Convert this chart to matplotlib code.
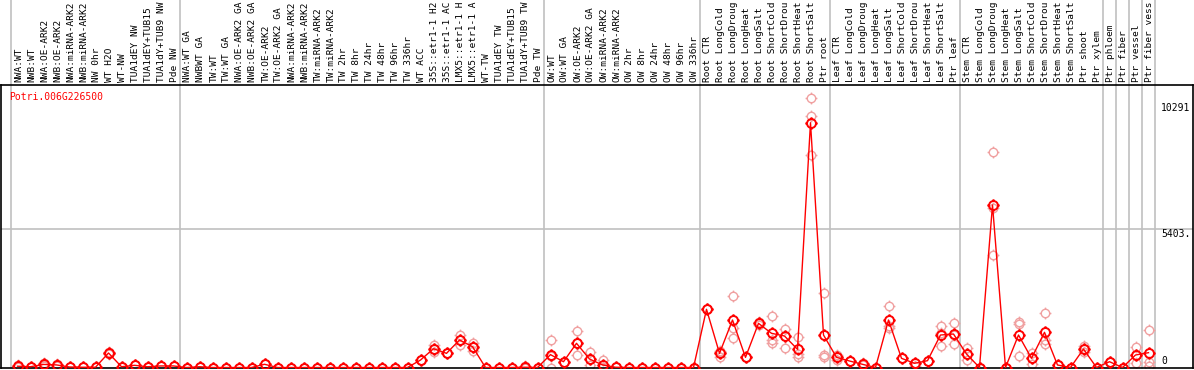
import matplotlib
matplotlib.use("Agg")
import matplotlib.pyplot as plt
import numpy as np
from matplotlib.path import Path

# etiquetas de las columnas (se recortan a 14 caracteres como en el original)
labels = [
    "NWA:WT", "NWB:WT", "NWA:OE-ARK2", "NWB:OE-ARK2", "NWA:miRNA-ARK2", "NWB:miRNA-ARK2",
    "NW 0hr", "WT H2O", "WT-NW", "TUA1dEY NW", "TUA1dEY+TUB15 NW", "TUA1dY+TUB9 NW", "Pde NW",
    "NWA:WT GA", "NWBWT GA", "TW:WT", "TW:WT GA", "NWA:OE-ARK2 GA", "NWB:OE-ARK2 GA",
    "TW:OE-ARK2", "TW:OE-ARK2 GA", "NWA:miRNA-ARK2", "NWB:miRNA-ARK2", "TW:miRNA-ARK2",
    "TW:miRNA-ARK2", "TW 2hr", "TW 8hr", "TW 24hr", "TW 48hr", "TW 96hr", "TW 336hr", "WT ACC",
    "35S::etr1-1 H2O", "35S::etr1-1 ACC", "LMX5::etr1-1 H2O", "LMX5::etr1-1 ACC", "WT-TW",
    "TUA1dEY TW", "TUA1dEY+TUB15 TW", "TUA1dY+TUB9 TW", "Pde TW",
    "OW:WT", "OW:WT GA", "OW:OE-ARK2", "OW:OE-ARK2 GA", "OW:miRNA-ARK2", "OW:miRNA-ARK2",
    "OW 2hr", "OW 8hr", "OW 24hr", "OW 48hr", "OW 96hr", "OW 336hr",
    "Root CTR", "Root LongCold", "Root LongDrought", "Root LongHeat", "Root LongSalt",
    "Root ShortCold", "Root ShortDrought", "Root ShortHeat", "Root ShortSalt", "Ptr root",
    "Leaf CTR", "Leaf LongCold", "Leaf LongDrought", "Leaf LongHeat", "Leaf LongSalt",
    "Leaf ShortCold", "Leaf ShortDrought", "Leaf ShortHeat", "Leaf ShortSalt", "Ptr leaf",
    "Stem CTR", "Stem LongCold", "Stem LongDrought", "Stem LongHeat", "Stem LongSalt",
    "Stem ShortCold", "Stem ShortDrought", "Stem ShortHeat", "Stem ShortSalt", "Ptr shoot",
    "Ptr xylem", "Ptr phloem", "Ptr fiber", "Ptr vessel", "Ptr fiber vessel",
]

# valores medios
media = [
    50, 30, 120, 100, 20, 10, 10, 564, 30, 85, 30, 60, 60,
    0, 30, 0, 0, 0, 0, 125, 0, 0, 0, 0, 0, 0, 0, 0, 0, 0, 0, 290, 730, 550, 1070, 810, 0, 0, 0, 10, 0,
    500, 225, 940, 330, 100, 10, 0, 0, 0, 0, 0, 0,
    2262, 550, 1846, 395, 1717, 1329, 1224, 707, 9515, 1263,
    396, 253, 124, 0, 1846, 357, 163, 265, 1263, 1302,
    525, 0, 6316, 0, 1263, 357, 1367, 97, 0, 719,
    0, 225, 0, 486, 576,
]

# replicas
replicas = [
    [80, 20, 50], [30, 30], [190, 60, 110], [140, 60], [20, 20], [10, 10], [10, 10],
    [620, 520, 550], [30, 30], [85, 85], [30, 30], [60, 60], [60, 60],
    [0, 0], [30, 30], [0, 0], [0, 0], [0, 0], [0, 0], [125, 125], [0, 0], [0, 0], [0, 0],
    [0, 0], [0, 0], [0, 0], [0, 0], [0, 0], [0, 0], [0, 0], [0, 0], [290, 290],
    [870, 730, 590], [550, 560], [1260, 1070, 880], [970, 810, 640], [0, 0], [0, 0], [0, 0],
    [40, 0], [0, 0],
    [1070, 440, 0], [225, 225], [1420, 940, 485], [610, 330, 100], [290, 10], [10, 10],
    [0, 0], [0, 0], [0, 0], [0, 0], [0, 0], [0, 0],
    [2262, 2262], [420, 640, 590], [2780, 1523, 1135], [395, 395], [1780, 1717, 1650],
    [2000, 1050, 940], [1485, 1224, 750], [1197, 520, 400], [10464, 9776, 8260], [2884, 420, 480],
    [500, 396, 290], [253, 253], [124, 160, 90], [0, 0], [2390, 1547, 1600], [357, 357],
    [163, 50], [265, 265], [1613, 1340, 836], [1742, 1250, 913],
    [746, 525, 300], [0, 0], [8377, 6200, 4373], [0, 0], [1780, 1690, 447], [575, 357, 140],
    [2107, 1080, 913], [97, 97], [0, 0], [848, 719, 590],
    [0, 0], [225, 225], [0, 0], [808, 486, 170], [1458, 230, 40],
]

separadores = [0, 13, 41, 53, 63, 73, 84, 85, 86, 87, 88]
gen = "Potri.006G226500"

# marcador circulo con rayitas
circ = Path.unit_circle()
rayas = Path([(1, 0), (1.4, 0), (-1, 0), (-1.4, 0), (0, 1), (0, 1.4), (0, -1), (0, -1.4)],
             [Path.MOVETO, Path.LINETO] * 4)
marcador = Path.make_compound_path(circ, rayas)

W, H = 1194, 370
fig = plt.figure(figsize=(W / 100, H / 100), dpi=100)
ax = fig.add_axes([1 / W, 2 / H, 1192 / W, 283 / H])

px_unit = 13.0
x0 = (1 - 17.5) / px_unit
x1 = (1193 - 17.5) / px_unit
ax.set_xlim(x0, x1)
vpp = 5403 / 139.0
ax.set_ylim(-0.5 * vpp, 282.5 * vpp)

fuente = "DejaVu Sans Mono"
ymax_fig = (H - 2) / 283.0

for s in separadores:
    ax.axvline(s - 0.5, ymin=0, ymax=ymax_fig, color="#c0c0c0", lw=1.2, clip_on=False, zorder=1)
ax.axhline(5403, color="#c0c0c0", lw=1.2, zorder=1)

x = np.arange(len(media))
for i, reps in enumerate(replicas):
    ax.plot([i] * len(reps), reps, linestyle="none", marker=marcador, markersize=8.5,
            markerfacecolor="none", markeredgecolor="#f0a0a0", markeredgewidth=1.0, zorder=2)
ax.plot(x, media, color="red", lw=1.0, zorder=3)
ax.plot(x, media, linestyle="none", marker=marcador, markersize=9,
        markerfacecolor="none", markeredgecolor="red", markeredgewidth=1.4, zorder=4)

for i, lab in enumerate(labels):
    ax.text(i + 0.1, 1 + 3 / 283, lab[:14], rotation=90, ha="center", va="bottom",
            transform=ax.get_xaxis_transform(), fontsize=6.8, family=fuente, clip_on=False)

xt = (1161 - 17.5) / px_unit
ax.text(xt, 10291, "10291", ha="left", va="top", fontsize=7, family=fuente)
ax.text(xt, 5403, "5403.", ha="left", va="top", fontsize=7, family=fuente)
ax.text(xt, 40, "0", ha="left", va="bottom", fontsize=7, family=fuente)

ax.text((9 - 17.5) / px_unit, 10700, gen, color="red", ha="left", va="top", fontsize=7, family=fuente)

ax.set_xticks([])
ax.set_yticks([])
for sp in ax.spines.values():
    sp.set_linewidth(1.2)
    sp.set_color("black")

fig.savefig("out.png", dpi=100)
